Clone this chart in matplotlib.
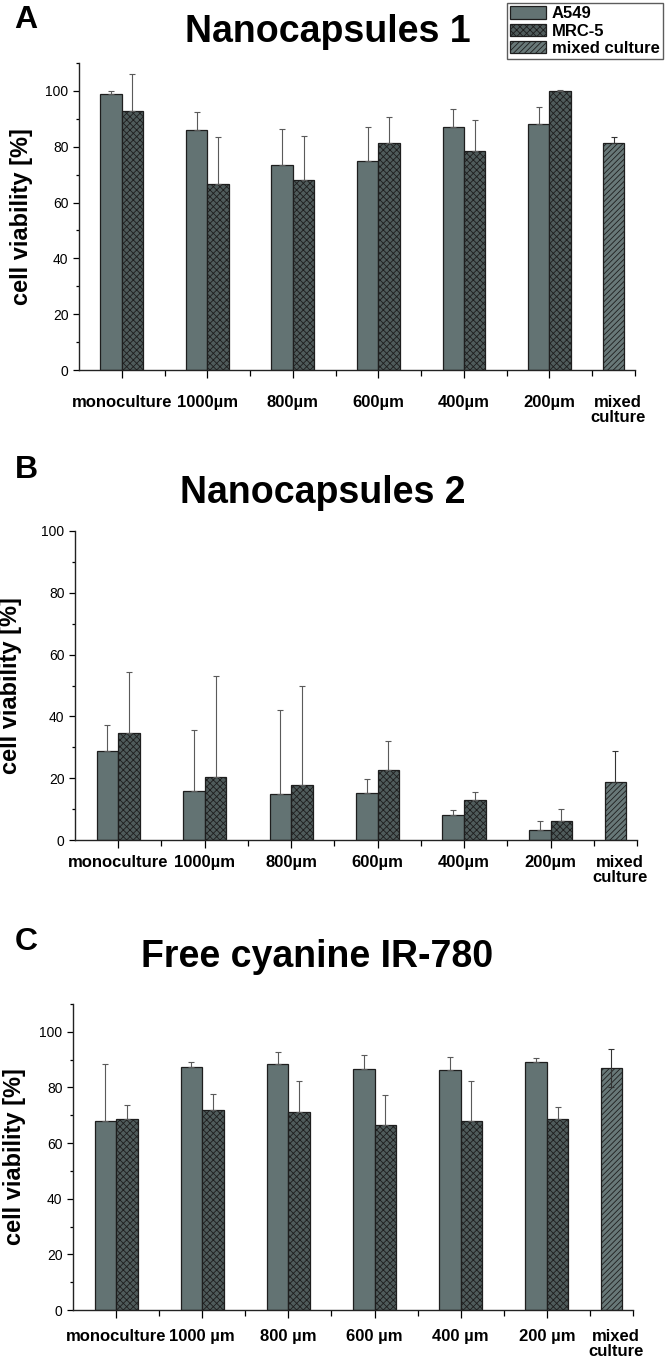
"""Cell viability bar panels: nanocapsules 1, nanocapsules 2, free IR-780."""

import matplotlib.pyplot as plt
from matplotlib.patches import Patch
import numpy as np

plt.rcParams['hatch.linewidth'] = 0.6
plt.rcParams['font.family'] = ['Liberation Sans', 'DejaVu Sans']

categories = ['monoculture', '1000µm', '800µm', '600µm', '400µm', '200µm']
categories_c = ['monoculture', '1000 µm', '800 µm', '600 µm', '400 µm', '200 µm']
mixed_label = 'mixed\nculture'

# panel A - Nanocapsules 1
a_a549 = [98.8, 86.0, 73.6, 74.8, 87.2, 88.2]
a_a549_err = [1.2, 6.4, 12.8, 12.3, 6.2, 5.9]
a_mrc5 = [92.8, 66.8, 68.1, 81.2, 78.6, 99.9]
a_mrc5_err = [13.3, 16.7, 15.8, 9.4, 10.8, 0.3]
a_mixed, a_mixed_err = 81.2, 2.2

# panel B - Nanocapsules 2
b_a549 = [28.8, 15.8, 15.0, 15.2, 8.0, 3.2]
b_a549_err = [8.3, 19.7, 27.1, 4.4, 1.8, 2.8]
b_mrc5 = [34.7, 20.4, 17.9, 22.6, 12.8, 6.0]
b_mrc5_err = [19.6, 32.8, 31.8, 9.4, 2.6, 3.9]
b_mixed, b_mixed_err = 18.8, 10.1

# panel C - Free cyanine IR-780
c_a549 = [68.1, 87.2, 88.5, 86.8, 86.2, 89.0]
c_a549_err = [20.2, 1.8, 4.4, 5.0, 4.7, 1.6]
c_mrc5 = [68.6, 71.9, 71.3, 66.5, 67.9, 68.6]
c_mrc5_err = [5.1, 5.9, 11.1, 10.7, 14.5, 4.3]
c_mixed, c_mixed_err = 86.9, 6.9

W, H = 666, 1364
fig = plt.figure(figsize=(W / 100, H / 100), dpi=100)

col_a549 = '#637373'
col_mrc5 = '#4f5b5b'
col_mixed = '#687878'
edge = '#1e1e1e'
errc = '#5a5a5a'
TICKLEN = 6


def rect(l, r, top, bot):
    return [l / W, 1 - bot / H, (r - l) / W, (bot - top) / H]


def panel(box, letter, letter_y, title, title_x, title_y, labels, a549, a549_err,
          mrc5, mrc5_err, mixed, mixed_err, ymax, label_pad, ylab_px, mixed_both=False):
    ax = fig.add_axes(rect(*box))
    x = np.arange(len(labels))
    w = 0.25
    ek = dict(ecolor=errc, elinewidth=0.8, capsize=2.5, capthick=0.8)
    ax.bar(x - w / 2, a549, w, color=col_a549, edgecolor=edge, linewidth=0.9,
           yerr=[np.zeros(len(a549)), a549_err], error_kw=ek, zorder=2)
    ax.bar(x + w / 2, mrc5, w, color=col_mrc5, edgecolor=edge, linewidth=0.9,
           hatch='xxxxx', yerr=[np.zeros(len(mrc5)), mrc5_err], error_kw=ek, zorder=2)
    lo = mixed_err if mixed_both else 0
    ax.bar([5.75], [mixed], w, color=col_mixed, edgecolor=edge, linewidth=0.9,
           hatch='//////', yerr=[[lo], [mixed_err]], error_kw=dict(ek, ecolor='#333333'),
           zorder=2)

    ax.set_xlim(-0.5, 6.0)
    ax.set_ylim(0, ymax)
    for s in ['top', 'right']:
        ax.spines[s].set_visible(False)
    for s in ['left', 'bottom']:
        ax.spines[s].set_linewidth(1.0)
        ax.spines[s].set_color('#222222')

    ax.set_xticks(x)
    ax.set_xticks(np.arange(0.5, 5.6, 1.0).tolist() + [6.0], minor=True)
    ax.set_xticklabels(labels, fontweight='bold', fontsize=12)
    ax.tick_params(axis='x', which='major', length=TICKLEN, width=0.9, pad=label_pad)
    ax.tick_params(axis='x', which='minor', length=4, width=0.9)
    ax.annotate(mixed_label, xy=(5.8, 0), xycoords=('data', 'axes fraction'),
                xytext=(0, -(TICKLEN + label_pad)), textcoords='offset points',
                ha='center', va='top', fontweight='bold', fontsize=12,
                linespacing=1.0)

    ax.set_yticks(np.arange(0, 101, 20))
    ax.set_yticks(np.arange(10, ymax + 0.1, 10), minor=True)
    ax.tick_params(axis='y', which='major', length=4, width=0.9, labelsize=10)
    ax.tick_params(axis='y', which='minor', length=2.5, width=0.9)
    ax.set_ylabel('cell viability [%]', fontweight='bold', fontsize=17)
    axw = box[1] - box[0]
    ax.yaxis.set_label_coords(-(box[0] - ylab_px) / axw, 0.5)

    fig.text(26 / W, 1 - letter_y / H, letter, fontweight='bold',
             fontsize=23, ha='center', va='center')
    fig.text(title_x / W, 1 - title_y / H, title, fontweight='bold',
             fontsize=27, ha='center', va='center')
    return ax


ax_a = panel((79, 635, 63, 370), 'A', 20, 'Nanocapsules 1', 328, 32, categories,
             a549=a_a549, a549_err=a_a549_err, mrc5=a_mrc5, mrc5_err=a_mrc5_err,
             mixed=a_mixed, mixed_err=a_mixed_err, ymax=110, label_pad=12, ylab_px=33)
ax_b = panel((75, 637, 531, 840), 'B', 470, 'Nanocapsules 2', 323, 493, categories,
             a549=b_a549, a549_err=b_a549_err, mrc5=b_mrc5, mrc5_err=b_mrc5_err,
             mixed=b_mixed, mixed_err=b_mixed_err, ymax=100, label_pad=5, ylab_px=22)
ax_c = panel((73, 633, 1004, 1310), 'C', 942, 'Free cyanine IR-780', 317, 957,
             categories_c,
             a549=c_a549, a549_err=c_a549_err, mrc5=c_mrc5, mrc5_err=c_mrc5_err,
             mixed=c_mixed, mixed_err=c_mixed_err, ymax=110, label_pad=8, ylab_px=26,
             mixed_both=True)

handles = [Patch(facecolor=col_a549, edgecolor=edge, linewidth=0.9, label='A549'),
           Patch(facecolor=col_mrc5, edgecolor=edge, linewidth=0.9, hatch='xxxxx',
                 label='MRC-5'),
           Patch(facecolor=col_mixed, edgecolor=edge, linewidth=0.9, hatch='//////',
                 label='mixed culture')]
leg = fig.legend(handles=handles, loc='upper right', bbox_to_anchor=(663 / W, 1 - 3 / H),
                 frameon=True, fancybox=False, edgecolor='#333333', borderpad=0.2,
                 labelspacing=0.12, handlelength=2.15, handleheight=0.8, handletextpad=0.35,
                 borderaxespad=0, prop=dict(weight='bold', size=12))
leg.get_frame().set_linewidth(1.0)

fig.savefig('out.png', dpi=100)
